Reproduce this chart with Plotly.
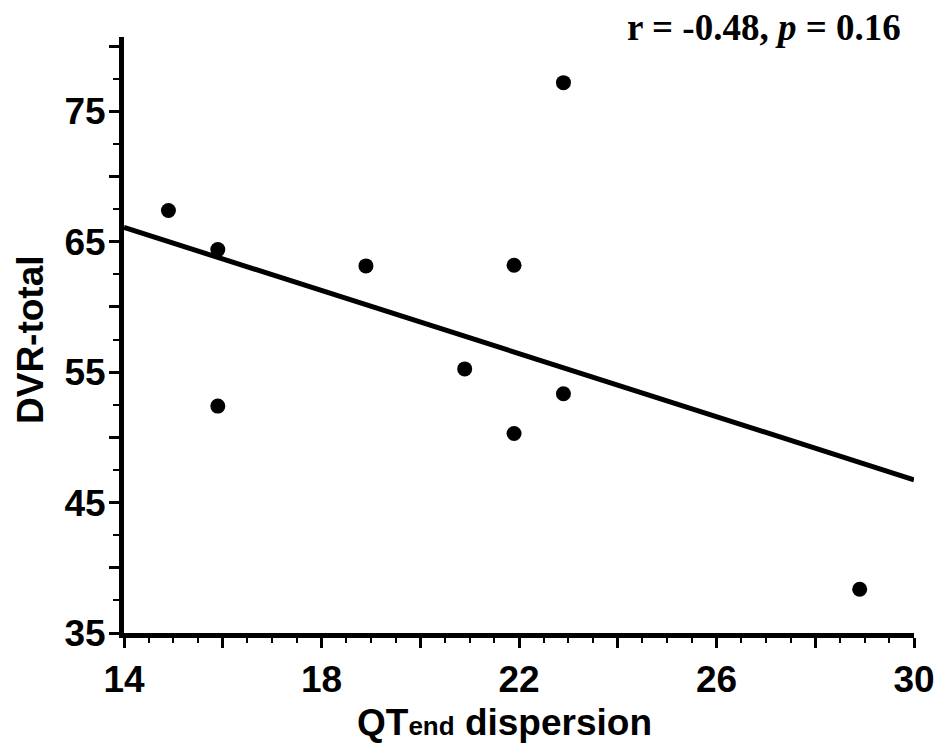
import plotly.graph_objects as go

# data
qt_dispersion = [14.9, 15.9, 15.9, 18.9, 20.9, 21.9, 21.9, 22.9, 22.9, 28.9]
dvr_total = [67.4, 64.4, 52.4, 63.15, 55.25, 63.2, 50.3, 77.2, 53.35, 38.35]
fit_x = [14, 30]
fit_y = [66.1, 46.75]

x_tick_vals = [14, 16, 18, 20, 22, 24, 26, 28, 30]
x_tick_text = ["14", "", "18", "", "22", "", "26", "", "30"]
y_tick_vals = [35, 40, 45, 50, 55, 60, 65, 70, 75, 80]
y_tick_text = ["35", "", "45", "", "55", "", "65", "", "75", ""]

# page body has an 8px margin, so the figure is placed at (8, 8)
OFF = 8
SW, SH = 944, 747                 # screen size
SL, SR, ST, SB = 124, 30, 37, 114  # plot area edges in screen pixels (right/bottom as margins)
W, H = SW - OFF, SH - OFF
L, T = SL - OFF, ST - OFF
R, B = SR, SB
pw, ph = SW - SL - SR, SH - ST - SB

def px(x):
    return (x - SL) / pw

def py(y):
    return (SH - SB - y) / ph

fig = go.Figure()
fig.add_trace(go.Scatter(x=fit_x, y=fit_y, mode="lines",
                         line=dict(color="black", width=5), showlegend=False,
                         hoverinfo="skip"))
fig.add_trace(go.Scatter(x=qt_dispersion, y=dvr_total, mode="markers",
                         marker=dict(color="black", size=15), showlegend=False))

tickfont = dict(family="Liberation Sans, Arial", size=37, color="black", weight="bold")

fig.update_layout(
    width=W, height=H,
    margin=dict(l=L, r=R, t=T, b=B, autoexpand=False),
    paper_bgcolor="white", plot_bgcolor="white",
    xaxis=dict(range=[14, 30], showgrid=False, zeroline=False,
               showline=True, linecolor="black", linewidth=5,
               tickmode="array", tickvals=x_tick_vals, ticktext=x_tick_text,
               ticks="outside", ticklen=10, tickwidth=2.5, tickcolor="black",
               tickfont=tickfont,
               minor=dict(dtick=0.5, tick0=14, ticks="outside", ticklen=5,
                          tickwidth=2, tickcolor="black", showgrid=False)),
    yaxis=dict(range=[35, 80.7], showgrid=False, zeroline=False,
               showline=True, linecolor="black", linewidth=5,
               tickmode="array", tickvals=y_tick_vals, ticktext=y_tick_text,
               ticks="outside", ticklen=10, tickwidth=2.5, tickcolor="black",
               tickfont=tickfont, ticklabelstandoff=-4,
               minor=dict(dtick=2.5, tick0=35, ticks="outside", ticklen=6,
                          tickwidth=2, tickcolor="black", showgrid=False)),
    annotations=[
        dict(text="QT<span style='font-size:26px'>end</span> dispersion",
             xref="paper", yref="paper", x=px(504), y=py(722),
             xanchor="center", yanchor="middle", showarrow=False,
             font=dict(family="Liberation Sans, Arial", size=37, color="black", weight="bold")),
        dict(text="DVR-total", textangle=-90,
             xref="paper", yref="paper", x=px(30), y=py(340),
             xanchor="center", yanchor="middle", showarrow=False,
             font=dict(family="Liberation Sans, Arial", size=37, color="black", weight="bold")),
        dict(text="r = -0.48, <i>p</i> = 0.16",
             xref="paper", yref="paper", x=px(764), y=py(28),
             xanchor="center", yanchor="middle", showarrow=False,
             font=dict(family="Liberation Serif, Times New Roman", size=37, color="black", weight="bold")),
    ],
)

fig.write_html("out.html")
